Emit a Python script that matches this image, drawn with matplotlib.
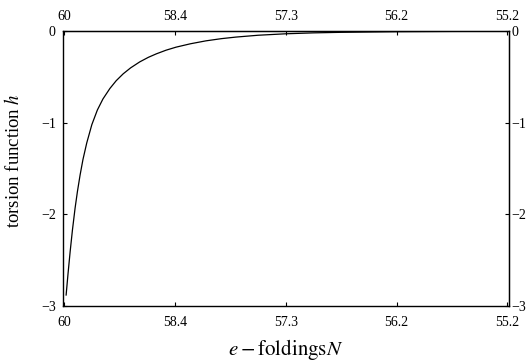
import numpy as np
import matplotlib
matplotlib.use("Agg")
import matplotlib.pyplot as plt

plt.rcParams['font.family'] = ['Liberation Serif', 'DejaVu Serif']
plt.rcParams['mathtext.fontset'] = 'stix'

# tick positions (evenly spaced) and the e-folding labels printed on them
tick_pos = [0, 1, 2, 3, 4]
n_labels = ['60', '58.4', '57.3', '56.2', '55.2']
h_ticks = [0, -1, -2, -3]
h_labels = ['0', '\u22121', '\u22122', '\u22123']

# torsion function, x in tick-position units
t = np.array([0.018, 0.035, 0.054, 0.075, 0.099, 0.12, 0.144, 0.17, 0.204, 0.25,
              0.30, 0.35, 0.413, 0.47, 0.533, 0.60, 0.682, 0.76, 0.832, 0.92,
              1.01, 1.14, 1.28, 1.42, 1.55, 1.75, 2.0, 2.25, 2.5, 3.0, 3.5, 4.0])
h = np.array([-2.88, -2.65, -2.41, -2.17, -1.93, -1.75, -1.57, -1.40, -1.22, -1.02,
              -0.86, -0.74, -0.625, -0.54, -0.465, -0.40, -0.335, -0.285, -0.247, -0.207,
              -0.174, -0.137, -0.105, -0.081, -0.064, -0.044, -0.028, -0.018, -0.012, -0.005, -0.002, -0.001])

fig = plt.figure(figsize=(5.29, 3.63), dpi=100)
ax = fig.add_axes([0.1185, 0.157, 0.8435, 0.757])
ax.plot(t, h, '-', color='k', lw=0.9)

ax.set_xlim(-0.013, 4.013)
ax.set_ylim(-3.0, 0.0)
ax.set_xticks(tick_pos)
ax.set_xticklabels(n_labels)
ax.set_yticks(h_ticks)
ax.set_yticklabels(h_labels)
ax.tick_params(direction='in', length=3, width=0.8, labelsize=10,
               top=False, right=False)
ax.tick_params(axis='x', pad=7)
ax.tick_params(axis='y', pad=5)
for s in ax.spines.values():
    s.set_linewidth(1.0)

# top and right copies of the axes with their own label spacing
axt = ax.secondary_xaxis('top')
axt.set_xticks(tick_pos)
axt.set_xticklabels(n_labels)
axt.tick_params(direction='in', length=3, width=0.8, labelsize=10, pad=6)
axr = ax.secondary_yaxis('right')
axr.set_yticks(h_ticks)
axr.set_yticklabels(h_labels)
axr.tick_params(direction='in', length=3, width=0.8, labelsize=10, pad=2)

ax.set_xlabel(r'$e-\mathrm{foldings}N$', fontsize=15, labelpad=6)
ax.set_ylabel(r'torsion function $h$', fontsize=13.5)
ax.yaxis.set_label_coords(-0.089, 0.53)

fig.savefig('out.png', dpi=100)
